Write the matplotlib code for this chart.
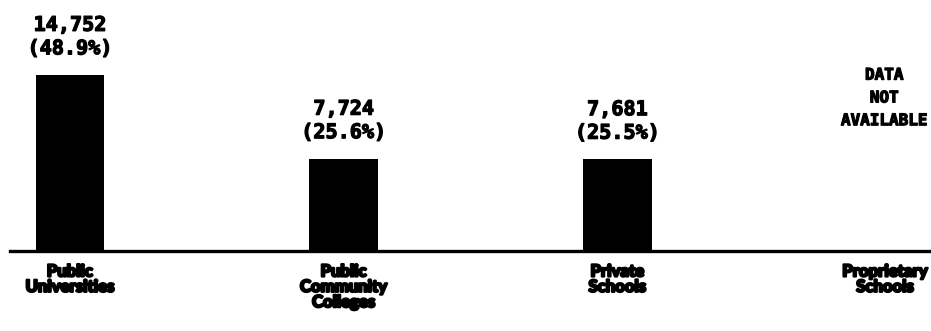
import matplotlib
matplotlib.use("Agg")
import matplotlib.pyplot as plt
import matplotlib.transforms as mtransforms
import matplotlib.patheffects as pe

categories = ["Public\nUniversities", "Public\nCommunity\nColleges",
              "Private\nSchools", "Proprietary\nSchools"]
enrollment = [14752, 7724, 7681]
shares = [48.9, 25.6, 25.5]
missing_note = "DATA\nNOT\nAVAILABLE"

W, H = 931, 331
fig = plt.figure(figsize=(W / 100, H / 100), dpi=100)
fig.patch.set_facecolor("white")

num_font = "DejaVu Sans Mono"
cat_font = "Lato"
heavy = [pe.withStroke(linewidth=0.9, foreground="black")]
heavier = [pe.withStroke(linewidth=1.6, foreground="black")]

# axes cover everything above the baseline
base_px = 251
ax = fig.add_axes([0, (H - base_px) / H, 1, base_px / H])
ax.set_facecolor("none")
ax.axis("off")

step, x0 = 273.7, 70
ax.set_xlim(-x0 / step, (W - x0) / step)
px_per_unit = 176 / enrollment[0]
ax.set_ylim(0, base_px / px_per_unit)

xs = list(range(len(enrollment)))
bars = ax.bar(xs, enrollment, width=0.252, color="black")

for x, v, s in zip(xs, enrollment, shares):
    ax.annotate(f"{v:,}\n({s}%)", (x, v), xytext=(0, 12), textcoords="offset points",
                ha="center", va="bottom", fontsize=14.5, fontweight="bold",
                family=num_font, linespacing=1.3, path_effects=heavy)

# proprietary schools: no figures reported
trans = mtransforms.blended_transform_factory(ax.transData, ax.transAxes)
ax.text(2.975, 0.61, missing_note, transform=trans, ha="center", va="center",
        fontsize=11.5, fontweight="bold", family=num_font, linespacing=1.65,
        path_effects=heavy)

ax.axhline(0, xmin=10 / W, xmax=1, color="black", lw=2.4, clip_on=False)

# category names under the baseline
cat_labels = []
for i, name in enumerate(categories):
    t = ax.annotate(name, (i, 0), xytext=(0, -9), textcoords="offset points",
                    ha="center", va="top", fontsize=12, fontweight="black",
                    family=cat_font, linespacing=0.95, annotation_clip=False,
                    path_effects=heavier)
    cat_labels.append(t)

fig.canvas.draw()
# keep the last category label inside the right edge
last = cat_labels[-1]
bb = last.get_window_extent()
if bb.x1 > W - 3:
    last.xy = (len(categories) - 1 - (bb.x1 - (W - 3)) / step, 0)

fig.savefig("out.png", dpi=100, facecolor="white")
